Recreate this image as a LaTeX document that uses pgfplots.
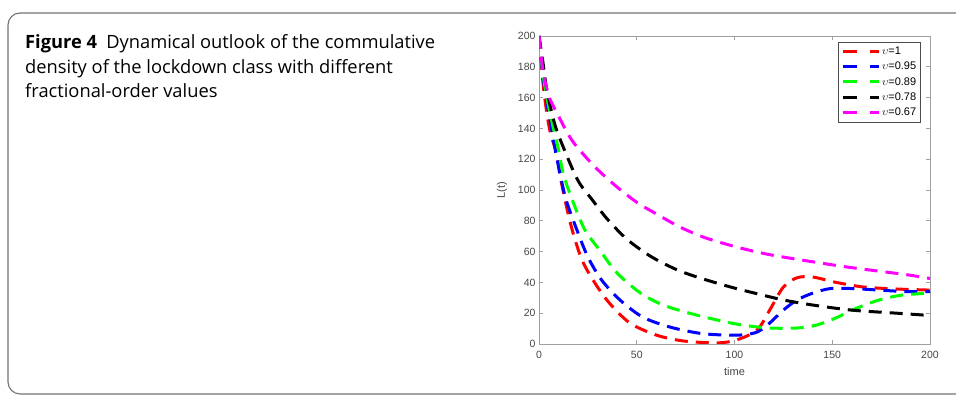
\documentclass[border=0pt]{standalone}
\usepackage{pgfplots}
\pgfplotsset{compat=1.18}
\usepackage{fontspec}
\setmainfont{Liberation Sans}
\newfontfamily\capfont{Open Sans}
\definecolor{axgray}{RGB}{160,160,160}
\definecolor{txtgray}{RGB}{70,70,70}
\definecolor{mag}{RGB}{255,0,255}
\definecolor{grn}{RGB}{0,255,0}
\begin{document}
\begin{tikzpicture}
\useasboundingbox (0pt,0pt) rectangle (956pt,395pt);
\begin{scope}
\clip (0pt,0pt) rectangle (956pt,395pt);
\draw[line width=1.1pt, color=black!55, rounded corners=12pt] (8pt,1pt) rectangle (990pt,382pt);
\end{scope}
\node[anchor=base west, align=left, font=\capfont\fontsize{18.3}{24.5}\selectfont, inner sep=0pt] at (25pt,297pt) {\textbf{Figure 4}\enspace Dynamical outlook of the commulative\\density of the lockdown class with different\\fractional-order values};
\begin{axis}[at={(539pt,51pt)}, anchor=south west, scale only axis,
  width=391pt, height=308pt,
  xmin=0, xmax=200, ymin=0, ymax=200,
  xtick={0,50,...,200}, ytick={0,20,...,200},
  tick align=inside, axis line style={axgray, line width=0.8pt},
  tick style={axgray, line width=0.6pt}, major tick length=4pt,
  ticklabel style={font=\fontsize{10.5}{12}\selectfont, text=txtgray},
  xticklabel shift=4pt,
  /pgf/number format/assume math mode=true,
  xlabel={time}, ylabel={L(t)},
  label style={font=\fontsize{11}{13}\selectfont, text=txtgray},
  xlabel style={yshift=-2pt},
  ylabel style={yshift=4pt},
  every axis plot/.append style={line width=3pt, dash pattern=on 13pt off 8pt, smooth},
  legend image code/.code={\draw[#1, line width=3pt, dash pattern=on 14pt off 13pt] (0pt,0pt) -- (36pt,0pt);},
  legend style={at={(0.977,0.981)}, anchor=north east, draw=black!70, line width=0.6pt,
    font=\fontsize{11}{13}\selectfont, row sep=2pt, inner xsep=3pt, inner ysep=3pt,
    nodes={inner xsep=1.5pt}},
  legend cell align=left,
]
\addplot[red] coordinates {(0,200)(2,170)(4,150)(6,136)(9,124)(10.7,110)(13.3,93.5)(17,74)(22,54.5)(28.6,39.6)(36,26.6)(46.5,13.6)(60,5.8)(73.6,2)(91,0.7)(101,2.6)(111.5,9)(118,22)(125,37)(132,43)(140,43.5)(152,40)(166,37)(183,35.7)(200,35)};
\addlegendentry{$\upsilon$=1}
\addplot[blue] coordinates {(0,200)(2,174)(4,157)(6,143)(8,128)(11,109)(14,93)(19.4,74)(25,56.5)(32,41.6)(41.4,28.6)(53,17.5)(67,11)(82,7)(95,5.8)(105,6)(112,8)(118,13.6)(125,22)(132,28.6)(140,33)(149,36)(160,36)(174,35)(188,34)(200,34)};
\addlegendentry{$\upsilon$=0.95}
\addplot[grn] coordinates {(0,200)(2,176)(4,160)(7,142)(10,126)(12.5,110)(17.5,92)(23.5,74)(31,61)(40,46)(52,33)(63.5,25.3)(77,20)(91,15.6)(104,12.3)(118,10.4)(132,10.4)(142,12.3)(152,17)(162,23)(174,28.6)(186,31.8)(200,33)};
\addlegendentry{$\upsilon$=0.89}
\addplot[black] coordinates {(0,200)(2,183)(4,165)(8,143)(13,126)(20,106)(27,94)(35,81)(45,68)(57,57)(70,48.5)(82,43)(98,37)(112,32.5)(125,28.6)(140,25.3)(160,22)(183,20)(200,18.5)};
\addlegendentry{$\upsilon$=0.78}
\addplot[mag] coordinates {(0,200)(2,178)(5,161)(10,148)(15,136)(19.4,128)(28.6,115)(38.9,103)(50,92)(60,84.5)(72,76)(85,69)(101,63)(116,58.5)(132,55)(157.5,50)(188,45)(200,42.5)};
\addlegendentry{$\upsilon$=0.67}
\end{axis}
\end{tikzpicture}
\end{document}
